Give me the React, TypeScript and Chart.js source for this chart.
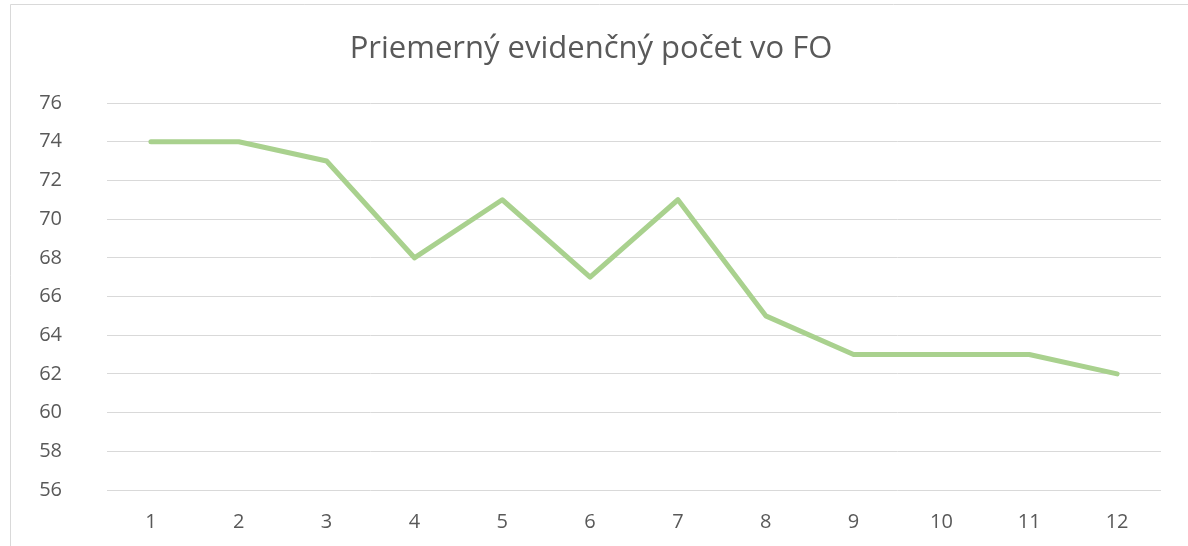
import React, { useEffect, useRef } from "react";
import { Chart, registerables } from "chart.js";

Chart.register(...registerables);

const TITLE = "Priemerný evidenčný počet vo FO";
const categories = ["1", "2", "3", "4", "5", "6", "7", "8", "9", "10", "11", "12"];
const values = [74, 74, 73, 68, 71, 67, 71, 65, 63, 63, 63, 62];
const yMin = 56;
const yMax = 76;
const yStep = 2;

const FONT = "'Open Sans', 'Liberation Sans', sans-serif";

const framePlugin = {
  id: "frame",
  beforeDraw(chart: any) {
    const ctx = chart.ctx;
    ctx.save();
    ctx.fillStyle = "#ffffff";
    ctx.fillRect(0, 0, chart.width, chart.height);
    ctx.strokeStyle = "#D9D9D9";
    ctx.lineWidth = 1;
    ctx.beginPath();
    ctx.moveTo(10.5, chart.height);
    ctx.lineTo(10.5, 4.5);
    ctx.lineTo(chart.width, 4.5);
    ctx.stroke();
    ctx.fillStyle = "#595959";
    ctx.font = `31px ${FONT}`;
    ctx.textAlign = "center";
    ctx.textBaseline = "middle";
    ctx.fillText(TITLE, 591, 49);
    // y tick labels
    const y = chart.scales.y;
    ctx.font = `20px ${FONT}`;
    ctx.textAlign = "right";
    for (const t of y.ticks) {
      ctx.fillText(String(t.value), 62, y.getPixelForValue(t.value));
    }
    ctx.restore();
  },
};

export default function App() {
  const ref = useRef<HTMLCanvasElement>(null);
  useEffect(() => {
    document.body.style.margin = "0";
    const chart = new Chart(ref.current!, {
      type: "line",
      data: {
        labels: categories,
        datasets: [
          {
            data: values,
            borderColor: "#A9D18E",
            borderWidth: 5,
            pointRadius: 0,
            borderCapStyle: "round",
            borderJoinStyle: "round",
            tension: 0,
            fill: false,
          },
        ],
      },
      options: {
        animation: false,
        responsive: false,
        devicePixelRatio: 1,
        layout: { padding: { top: 103, right: 27, left: 0, bottom: 0 } },
        plugins: { legend: { display: false }, title: { display: false }, tooltip: { enabled: false } },
        scales: {
          x: {
            offset: true,
            grid: { display: false, drawTicks: false },
            border: { display: false },
            ticks: { color: "#595959", font: { family: FONT, size: 20 }, padding: 20, maxRotation: 0 },
            afterFit(scale: any) {
              scale.height = 56;
            },
          },
          y: {
            min: yMin,
            max: yMax,
            grid: { color: "#D9D9D9", lineWidth: 1, drawTicks: false },
            border: { display: false },
            ticks: { stepSize: yStep, display: false },
            afterFit(scale: any) {
              scale.width = 107;
            },
          },
        },
      },
      plugins: [framePlugin],
    });
    return () => chart.destroy();
  }, []);
  return (
    <div style={{ width: 1188, height: 546 }}>
      <canvas ref={ref} width={1188} height={546} style={{ display: "block" }} />
    </div>
  );
}
